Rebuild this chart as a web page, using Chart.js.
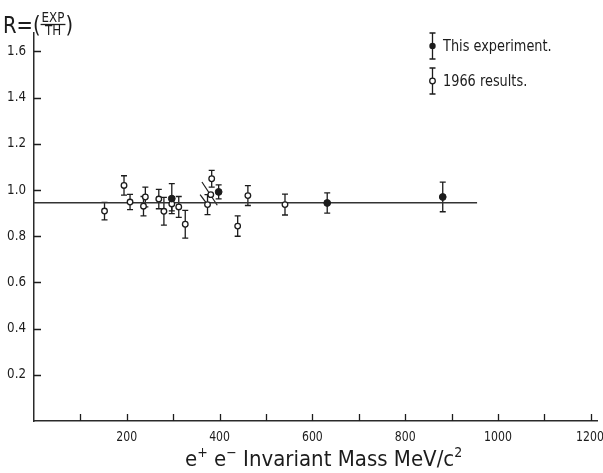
<!DOCTYPE html>
<html>
<head>
<meta charset="utf-8">
<script src="https://cdn.jsdelivr.net/npm/chart.js@4"></script>
<style>
  html, body { margin: 0; padding: 0; background: #fff; }
  #wrap { width: 603px; height: 473px; }
</style>
</head>
<body>
<div id="wrap"><canvas id="chart" width="603" height="473"></canvas></div>
<script>
const FONT = "'DejaVu Sans', sans-serif";
const INK = "#1c1c1c";

// this experiment (filled dots)
const expMass = [297, 398, 632, 881];
const expR = [0.963, 0.992, 0.944, 0.970];
const expErr = [0.065, 0.03, 0.044, 0.064];

// 1966 results (open dots)
const oldMass = [152, 194, 207, 236, 240, 269, 280, 297, 312, 326, 374, 381, 383, 439, 461, 541];
const oldR = [0.909, 1.02, 0.948, 0.93, 0.97, 0.961, 0.908, 0.94, 0.927, 0.852, 0.937, 0.98, 1.049, 0.844, 0.976, 0.937];
const oldErr = [0.038, 0.042, 0.033, 0.042, 0.043, 0.042, 0.06, 0.03, 0.045, 0.06, 0.043, 0, 0.036, 0.044, 0.043, 0.045];

// mean value line
const fitMass = [0, 955];
const fitR = [0.945, 0.945];

// the two slanted strokes near 380 MeV
const slash1Mass = [362, 395];
const slash1R = [1.035, 0.934];
const slash2Mass = [358, 374];
const slash2R = [0.98, 0.937];

// axis ticks
const xTickMarks = [100, 200, 300, 400, 500, 600, 700, 800, 900, 1000, 1100, 1200];
const xTickLabels = [200, 400, 600, 800, 1000, 1200];
const yTickMarks = [0.2, 0.4, 0.6, 0.8, 1.0, 1.2, 1.4, 1.6];
const yTickLabels = ["0.2", "0.4", "0.6", "0.8", "1.0", "1.2", "1.4", "1.6"];

const pts = (m, r) => m.map((v, i) => ({ x: v, y: r[i] }));

// draws text squeezed horizontally, the original lettering is narrow
function narrowText(ctx, text, x, y, squeeze, align) {
  const w = ctx.measureText(text).width * squeeze;
  let left = x;
  if (align === "center") left = x - w / 2;
  if (align === "right") left = x - w;
  ctx.save();
  ctx.translate(left, y);
  ctx.scale(squeeze, 1);
  ctx.textAlign = "left";
  ctx.fillText(text, 0, 0);
  ctx.restore();
  return w;
}

const errorBars = {
  id: "errorBars",
  beforeDatasetsDraw(chart) {
    const { ctx, scales: { x, y } } = chart;
    ctx.save();
    ctx.strokeStyle = INK;
    ctx.lineWidth = 1.3;
    [[expMass, expR, expErr], [oldMass, oldR, oldErr]].forEach(([m, r, e]) => {
      m.forEach((v, i) => {
        if (!e[i]) return;
        const px = x.getPixelForValue(v);
        const top = y.getPixelForValue(r[i] + e[i]);
        const bot = y.getPixelForValue(r[i] - e[i]);
        ctx.beginPath();
        ctx.moveTo(px, top); ctx.lineTo(px, bot);
        ctx.moveTo(px - 3, top); ctx.lineTo(px + 3, top);
        ctx.moveTo(px - 3, bot); ctx.lineTo(px + 3, bot);
        ctx.stroke();
      });
    });
    ctx.restore();
  }
};

const decorations = {
  id: "decorations",
  afterDraw(chart) {
    const { ctx, scales: { x, y } } = chart;
    ctx.save();
    ctx.strokeStyle = INK;
    ctx.fillStyle = INK;
    ctx.lineWidth = 1.3;

    // inward tick marks
    ctx.beginPath();
    xTickMarks.forEach((v) => {
      const px = Math.round(x.getPixelForValue(v)) + 0.5;
      ctx.moveTo(px, y.bottom);
      ctx.lineTo(px, y.bottom - 7);
    });
    yTickMarks.forEach((v) => {
      const py = Math.round(y.getPixelForValue(v)) + 0.5;
      ctx.moveTo(x.left, py);
      ctx.lineTo(x.left + 7, py);
    });
    ctx.stroke();

    // x tick labels
    ctx.font = "14px " + FONT;
    ctx.textBaseline = "middle";
    xTickLabels.forEach((v) => {
      const px = Math.min(x.getPixelForValue(v), 590);
      narrowText(ctx, String(v), px, 437, 0.78, "center");
    });

    // y tick labels
    yTickLabels.forEach((t, i) => {
      narrowText(ctx, t, 26, y.getPixelForValue(yTickMarks[i]), 0.85, "right");
    });

    // x title
    ctx.textBaseline = "alphabetic";
    let cx = 185;
    const base = 466;
    const put = (t, size, dy) => {
      ctx.font = size + "px " + FONT;
      cx += narrowText(ctx, t, cx, base + (dy || 0), 0.9, "left");
    };
    put("e", 22); put("+", 14, -9); put(" e", 22); put("\u2212", 14, -9);
    put(" Invariant Mass MeV/c", 22); put("2", 14, -9);

    // y title R=(EXP/TH)
    ctx.font = "23px " + FONT;
    let fx = 3 + narrowText(ctx, "R=(", 3, 33, 0.85, "left");
    ctx.font = "14px " + FONT;
    const fw = ctx.measureText("EXP").width * 0.85;
    narrowText(ctx, "EXP", fx + 1 + fw / 2, 22, 0.85, "center");
    narrowText(ctx, "TH", fx + 1 + fw / 2, 35, 0.85, "center");
    ctx.beginPath();
    ctx.moveTo(fx, 24.5);
    ctx.lineTo(fx + fw + 2, 24.5);
    ctx.stroke();
    ctx.font = "23px " + FONT;
    narrowText(ctx, ")", fx + fw + 2, 33, 0.85, "left");

    // legend
    const icon = (cyy, filled) => {
      const ix = 432.5;
      ctx.beginPath();
      ctx.moveTo(ix, cyy - 13); ctx.lineTo(ix, cyy + 13);
      ctx.moveTo(ix - 3, cyy - 13); ctx.lineTo(ix + 3, cyy - 13);
      ctx.moveTo(ix - 3, cyy + 13); ctx.lineTo(ix + 3, cyy + 13);
      ctx.stroke();
      ctx.beginPath();
      ctx.arc(ix, cyy, filled ? 3.2 : 2.8, 0, Math.PI * 2);
      if (filled) { ctx.fill(); } else { ctx.fillStyle = "#fff"; ctx.fill(); ctx.fillStyle = INK; ctx.stroke(); }
    };
    icon(46, true);
    icon(81, false);
    ctx.font = "15px " + FONT;
    ctx.textBaseline = "middle";
    narrowText(ctx, "This experiment.", 443, 47, 0.86, "left");
    narrowText(ctx, "1966 results.", 443, 82, 0.86, "left");
    ctx.restore();
  }
};

new Chart(document.getElementById("chart"), {
  type: "scatter",
  data: {
    datasets: [
      {
        label: "This experiment.",
        data: pts(expMass, expR),
        pointRadius: 3.4,
        pointBackgroundColor: INK,
        pointBorderColor: INK,
        pointBorderWidth: 1,
      },
      {
        label: "1966 results.",
        data: pts(oldMass, oldR),
        pointRadius: 2.8,
        pointBackgroundColor: "#fff",
        pointBorderColor: INK,
        pointBorderWidth: 1.3,
      },
      {
        label: "mean",
        data: pts(fitMass, fitR),
        showLine: true,
        borderColor: "#333",
        borderWidth: 1.3,
        pointRadius: 0,
      },
      {
        label: "slash1",
        data: pts(slash1Mass, slash1R),
        showLine: true,
        borderColor: INK,
        borderWidth: 1.2,
        pointRadius: 0,
      },
      {
        label: "slash2",
        data: pts(slash2Mass, slash2R),
        showLine: true,
        borderColor: INK,
        borderWidth: 1.2,
        pointRadius: 0,
      },
    ],
  },
  options: {
    responsive: false,
    animation: false,
    devicePixelRatio: 1,
    layout: { padding: { left: 0, right: 3, top: 33, bottom: 0 } },
    plugins: {
      legend: { display: false },
      tooltip: { enabled: false },
    },
    scales: {
      x: {
        type: "linear",
        min: 0,
        max: 1215,
        grid: { display: false, drawTicks: false },
        border: { display: true, color: "#2a2a2a", width: 1.5 },
        ticks: { display: false },
        afterFit: (s) => { s.height = 52; s.paddingLeft = 0; s.paddingRight = 0; },
      },
      y: {
        type: "linear",
        min: 0,
        max: 1.68,
        grid: { display: false, drawTicks: false },
        border: { display: true, color: "#2a2a2a", width: 1.5 },
        ticks: { display: false },
        afterFit: (s) => { s.width = 34; s.paddingTop = 0; s.paddingBottom = 0; },
      },
    },
  },
  plugins: [errorBars, decorations],
});
</script>
</body>
</html>
